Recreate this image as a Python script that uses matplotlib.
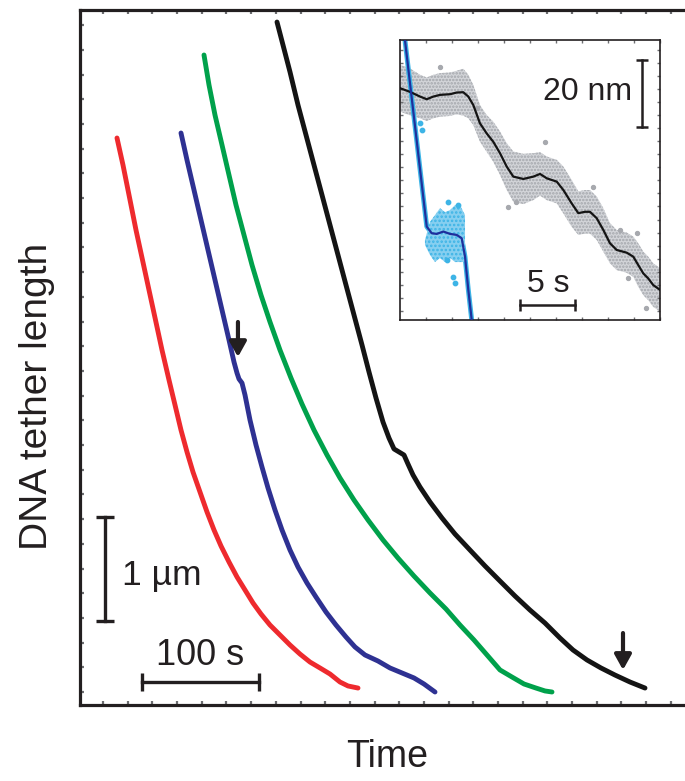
import numpy as np
import matplotlib
matplotlib.use("Agg")
import matplotlib.pyplot as plt
from matplotlib.ticker import FixedLocator

plt.rcParams['font.family'] = ['Liberation Sans', 'DejaVu Sans']
plt.rcParams['hatch.linewidth'] = 1.2

INK = '#231f20'

# main traces: time (s) vs tether length (um)
red_t = [31.62, 36.75, 42.74, 47.86, 53.42, 58.97, 64.53, 70.09, 76.07, 81.20, 86.32, 91.45,
         96.58, 102.56, 108.55, 114.53, 120.51, 127.35, 134.19, 141.03, 147.86, 154.70,
         162.39, 170.94, 179.49, 188.03, 196.58, 205.13, 213.68, 222.22, 229.06, 237.61]
red_L = [5.452, 5.192, 4.856, 4.567, 4.279, 3.990, 3.702, 3.413, 3.125, 2.885, 2.644, 2.433,
         2.240, 2.048, 1.856, 1.683, 1.529, 1.375, 1.231, 1.106, 0.981, 0.875,
         0.769, 0.673, 0.577, 0.490, 0.413, 0.356, 0.298, 0.221, 0.183, 0.163]

blue_t = [86.32, 91.45, 97.44, 103.42, 109.40, 115.38, 121.37, 127.35, 131.62, 134.19, 135.90,
          138.46, 141.03, 145.30, 150.43, 155.56, 160.68, 166.67, 172.65, 179.49, 186.32,
          194.02, 201.71, 210.26, 218.80, 227.35, 235.04, 243.59, 254.70, 264.96, 275.21,
          285.47, 294.02, 303.42]
blue_L = [5.500, 5.240, 4.952, 4.663, 4.375, 4.087, 3.798, 3.510, 3.298, 3.192, 3.135,
          3.096, 2.981, 2.740, 2.500, 2.288, 2.087, 1.875, 1.683, 1.490, 1.327,
          1.173, 1.038, 0.894, 0.769, 0.654, 0.558, 0.481, 0.423, 0.356, 0.308,
          0.260, 0.202, 0.125]

green_t = [105.98, 110.26, 115.38, 121.37, 127.35, 133.33, 140.17, 147.01, 154.70, 162.39,
           170.94, 180.34, 189.74, 200.00, 211.11, 222.22, 234.19, 246.15, 258.97, 271.79,
           285.47, 299.15, 312.82, 324.79, 336.75, 347.86, 358.97, 369.23, 379.49, 389.74,
           397.44, 403.42]
green_L = [6.250, 5.962, 5.673, 5.385, 5.096, 4.808, 4.519, 4.231, 3.942, 3.683,
           3.413, 3.144, 2.894, 2.644, 2.404, 2.183, 1.971, 1.779, 1.587, 1.413,
           1.240, 1.077, 0.923, 0.769, 0.625, 0.481, 0.337, 0.269, 0.202, 0.163,
           0.135, 0.125]

black_t = [168.38, 173.50, 179.49, 186.32, 193.16, 200.00, 206.84, 213.68, 220.51, 227.35,
           234.19, 241.03, 247.01, 252.99, 258.97, 264.10, 268.38, 272.65, 276.92, 280.34,
           284.62, 290.60, 299.15, 309.40, 320.51, 333.33, 346.15, 358.97, 371.79, 384.62,
           397.44, 410.26, 421.37, 433.33, 445.30, 457.26, 470.09, 482.91]
black_L = [6.567, 6.346, 6.087, 5.769, 5.481, 5.192, 4.904, 4.615, 4.327, 4.038,
           3.750, 3.462, 3.202, 2.952, 2.721, 2.567, 2.462, 2.433, 2.404, 2.317,
           2.212, 2.096, 1.952, 1.798, 1.644, 1.490, 1.337, 1.192, 1.048, 0.913,
           0.788, 0.644, 0.529, 0.433, 0.356, 0.288, 0.221, 0.163]

# arrows (x, tail, tip)
arrows = [(135.0, 3.683, 3.346), (464.1, 0.692, 0.337)]

# inset: time (s) vs length (nm)
ins_t = [0, 0.91, 1.82, 2.43, 3.03, 3.64, 4.55, 5.15, 5.75, 6.21, 6.66, 7.27, 7.88, 8.48,
         9.09, 9.70, 10.30, 11.21, 12.12, 12.73, 13.34, 14.25, 14.85, 15.61, 16.21, 16.82,
         17.27, 17.88, 18.48, 19.09, 19.70, 20.61, 21.21, 21.66, 22.12, 22.57, 23.03, 23.64]
ins_L = [69.2, 68.1, 66.7, 65.9, 66.7, 67.2, 67.4, 67.9, 68.0, 66.7, 64.2, 58.7, 55.7, 53.2,
         49.8, 45.8, 42.8, 42.1, 42.8, 43.6, 42.3, 41.3, 38.8, 34.8, 31.9, 32.3, 32.3, 30.4,
         26.9, 22.9, 20.9, 20.1, 18.9, 16.4, 13.9, 12.4, 10.4, 9.0]
ins_spread = [7.0, 7.0, 6.5, 6.5, 6.5, 6.5, 6.5, 6.5, 7.0, 6.5, 6.0, 5.5, 5.5, 6.0,
              6.5, 7.0, 7.5, 7.5, 7.0, 6.5, 6.5, 6.5, 7.0, 7.0, 6.5, 6.5, 6.5, 6.5,
              6.5, 6.0, 6.0, 6.0, 6.0, 6.5, 6.5, 6.5, 6.5, 6.5]
gray_out_t = [13.18, 3.64, 9.8, 10.5, 17.5, 20.0, 21.5, 22.4, 20.7, 7.0]
gray_out_L = [53.2, 75.6, 33.7, 35.2, 39.7, 26.9, 26.0, 3.6, 12.5, 63.3]

fit_t = [0.27, 0.45, 2.43, 2.88, 3.34, 3.94, 4.55, 5.15, 5.61, 5.91, 6.21, 6.52, 6.64]
fit_L = [91.0, 83.6, 27.9, 25.9, 25.7, 26.4, 25.7, 25.4, 24.4, 18.9, 9.0, 0.0, -4.5]
cyan_t = [2.27, 2.73, 3.18, 3.64, 4.09, 4.55, 5.00, 5.45, 5.91]
cyan_hi = [23.9, 29.3, 31.3, 33.4, 32.2, 32.8, 34.3, 34.3, 31.3]
cyan_lo = [22.4, 19.4, 17.3, 18.5, 17.3, 18.5, 17.3, 17.3, 17.3]
cyan_out_t = [4.36, 5.27, 4.82, 5.0, 4.27, 2.0, 1.82]
cyan_out_L = [35.2, 34.3, 12.8, 11.0, 17.9, 56.7, 58.8]

fig = plt.figure(figsize=(6.85, 7.81), dpi=100)
ax = fig.add_axes([80 / 685, 76 / 781, 606 / 685, 695 / 781])
ax.set_xlim(0, 606 / 1.17)
ax.set_ylim(0, 695 / 104)

for t, L, c in [(red_t, red_L, '#ee2a2e'), (blue_t, blue_L, '#2e3192'),
                (green_t, green_L, '#00a14b'), (black_t, black_L, '#141414')]:
    ax.plot(t, L, color=c, lw=3.5, solid_capstyle='round', solid_joinstyle='round')

for x, y0, y1 in arrows:
    ax.annotate('', xy=(x, y1), xytext=(x, y0),
                arrowprops=dict(arrowstyle='-|>,head_length=0.9,head_width=0.5',
                                mutation_scale=10, lw=3, color=INK, shrinkA=0, shrinkB=0))

# scale bars
ax.plot([21.4, 21.4], [0.808, 1.808], color=INK, lw=2.4, marker='_', ms=13, mew=2.4)
ax.text(35.9, 1.154, '1 \u00b5m', fontsize=25.5, color=INK, ha='left', va='baseline')
ax.plot([53.0, 153.0], [0.221, 0.221], color=INK, lw=2.4, marker='|', ms=13, mew=2.4)
ax.text(102.6, 0.385, '100 s', fontsize=26, color=INK, ha='center', va='baseline')

ax.spines['right'].set_visible(False)
for s in ['left', 'top', 'bottom']:
    ax.spines[s].set_linewidth(2.3)
    ax.spines[s].set_color(INK)
ax.xaxis.set_major_locator(FixedLocator(np.arange(19.7, 520, 21.1)))
ax.yaxis.set_major_locator(FixedLocator(np.arange(0.125, 6.7, 0.2375)))
ax.tick_params(direction='in', length=3, width=1.6, color='#6d6e71',
               top=True, bottom=True, left=True, right=False,
               labelleft=False, labelbottom=False)

fig.text(387 / 685, 1 - 757 / 781, 'Time', fontsize=27, color=INK, ha='center', va='center')
fig.text(37 / 685, 1 - 396 / 781, 'DNA tether length', fontsize=28, color=INK,
         ha='center', va='center', rotation=90)

# inset
ax2 = fig.add_axes([400 / 685, (781 - 320) / 781, 260 / 685, 280 / 781])
ax2.set_xlim(0, 260 / 11)
ax2.set_ylim(0, 280 / 3.35)
lo = np.array(ins_L) - np.array(ins_spread)
hi = np.array(ins_L) + np.array(ins_spread)
ax2.fill_between(ins_t, lo, hi, facecolor='#d3d5d9', edgecolor='#a3a6ab', hatch='.....',
                 linewidth=0, zorder=1)
ax2.scatter(gray_out_t, gray_out_L, s=8, color='#a7a9ae', zorder=1)
ax2.plot(fit_t, fit_L, color='#3db4e6', lw=3.5, zorder=2)
ax2.fill_between(cyan_t, cyan_lo, cyan_hi, facecolor='#86cff0', edgecolor='#3db4e6',
                 hatch='....', linewidth=0, zorder=2)
ax2.scatter(cyan_out_t, cyan_out_L, s=10, color='#3db4e6', zorder=2)
ax2.plot(ins_t, ins_L, color='#141414', lw=1.6, zorder=3)
ax2.plot(fit_t, fit_L, color='#1f2f9c', lw=1.6, zorder=4)

ax2.plot([21.97, 21.97], [57.6, 77.6], color=INK, lw=1.8, marker='_', ms=9, mew=1.8)
ax2.text(21.1, 65.7, '20 nm', fontsize=23, color=INK, ha='right', va='baseline')
ax2.plot([10.91, 15.91], [4.48, 4.48], color=INK, lw=1.8, marker='|', ms=9, mew=1.8)
ax2.text(13.45, 8.45, '5 s', fontsize=23, color=INK, ha='center', va='baseline')

for s in ax2.spines.values():
    s.set_linewidth(1.2)
    s.set_color(INK)
ax2.xaxis.set_major_locator(FixedLocator(np.arange(2.36, 23.6, 2.36)))
ax2.yaxis.set_major_locator(FixedLocator(np.arange(2.7, 83.5, 3.9)))
ax2.tick_params(direction='in', length=2.5, width=1, color='#6d6e71',
                top=True, right=True, labelleft=False, labelbottom=False)

fig.savefig('out.png', dpi=100)
